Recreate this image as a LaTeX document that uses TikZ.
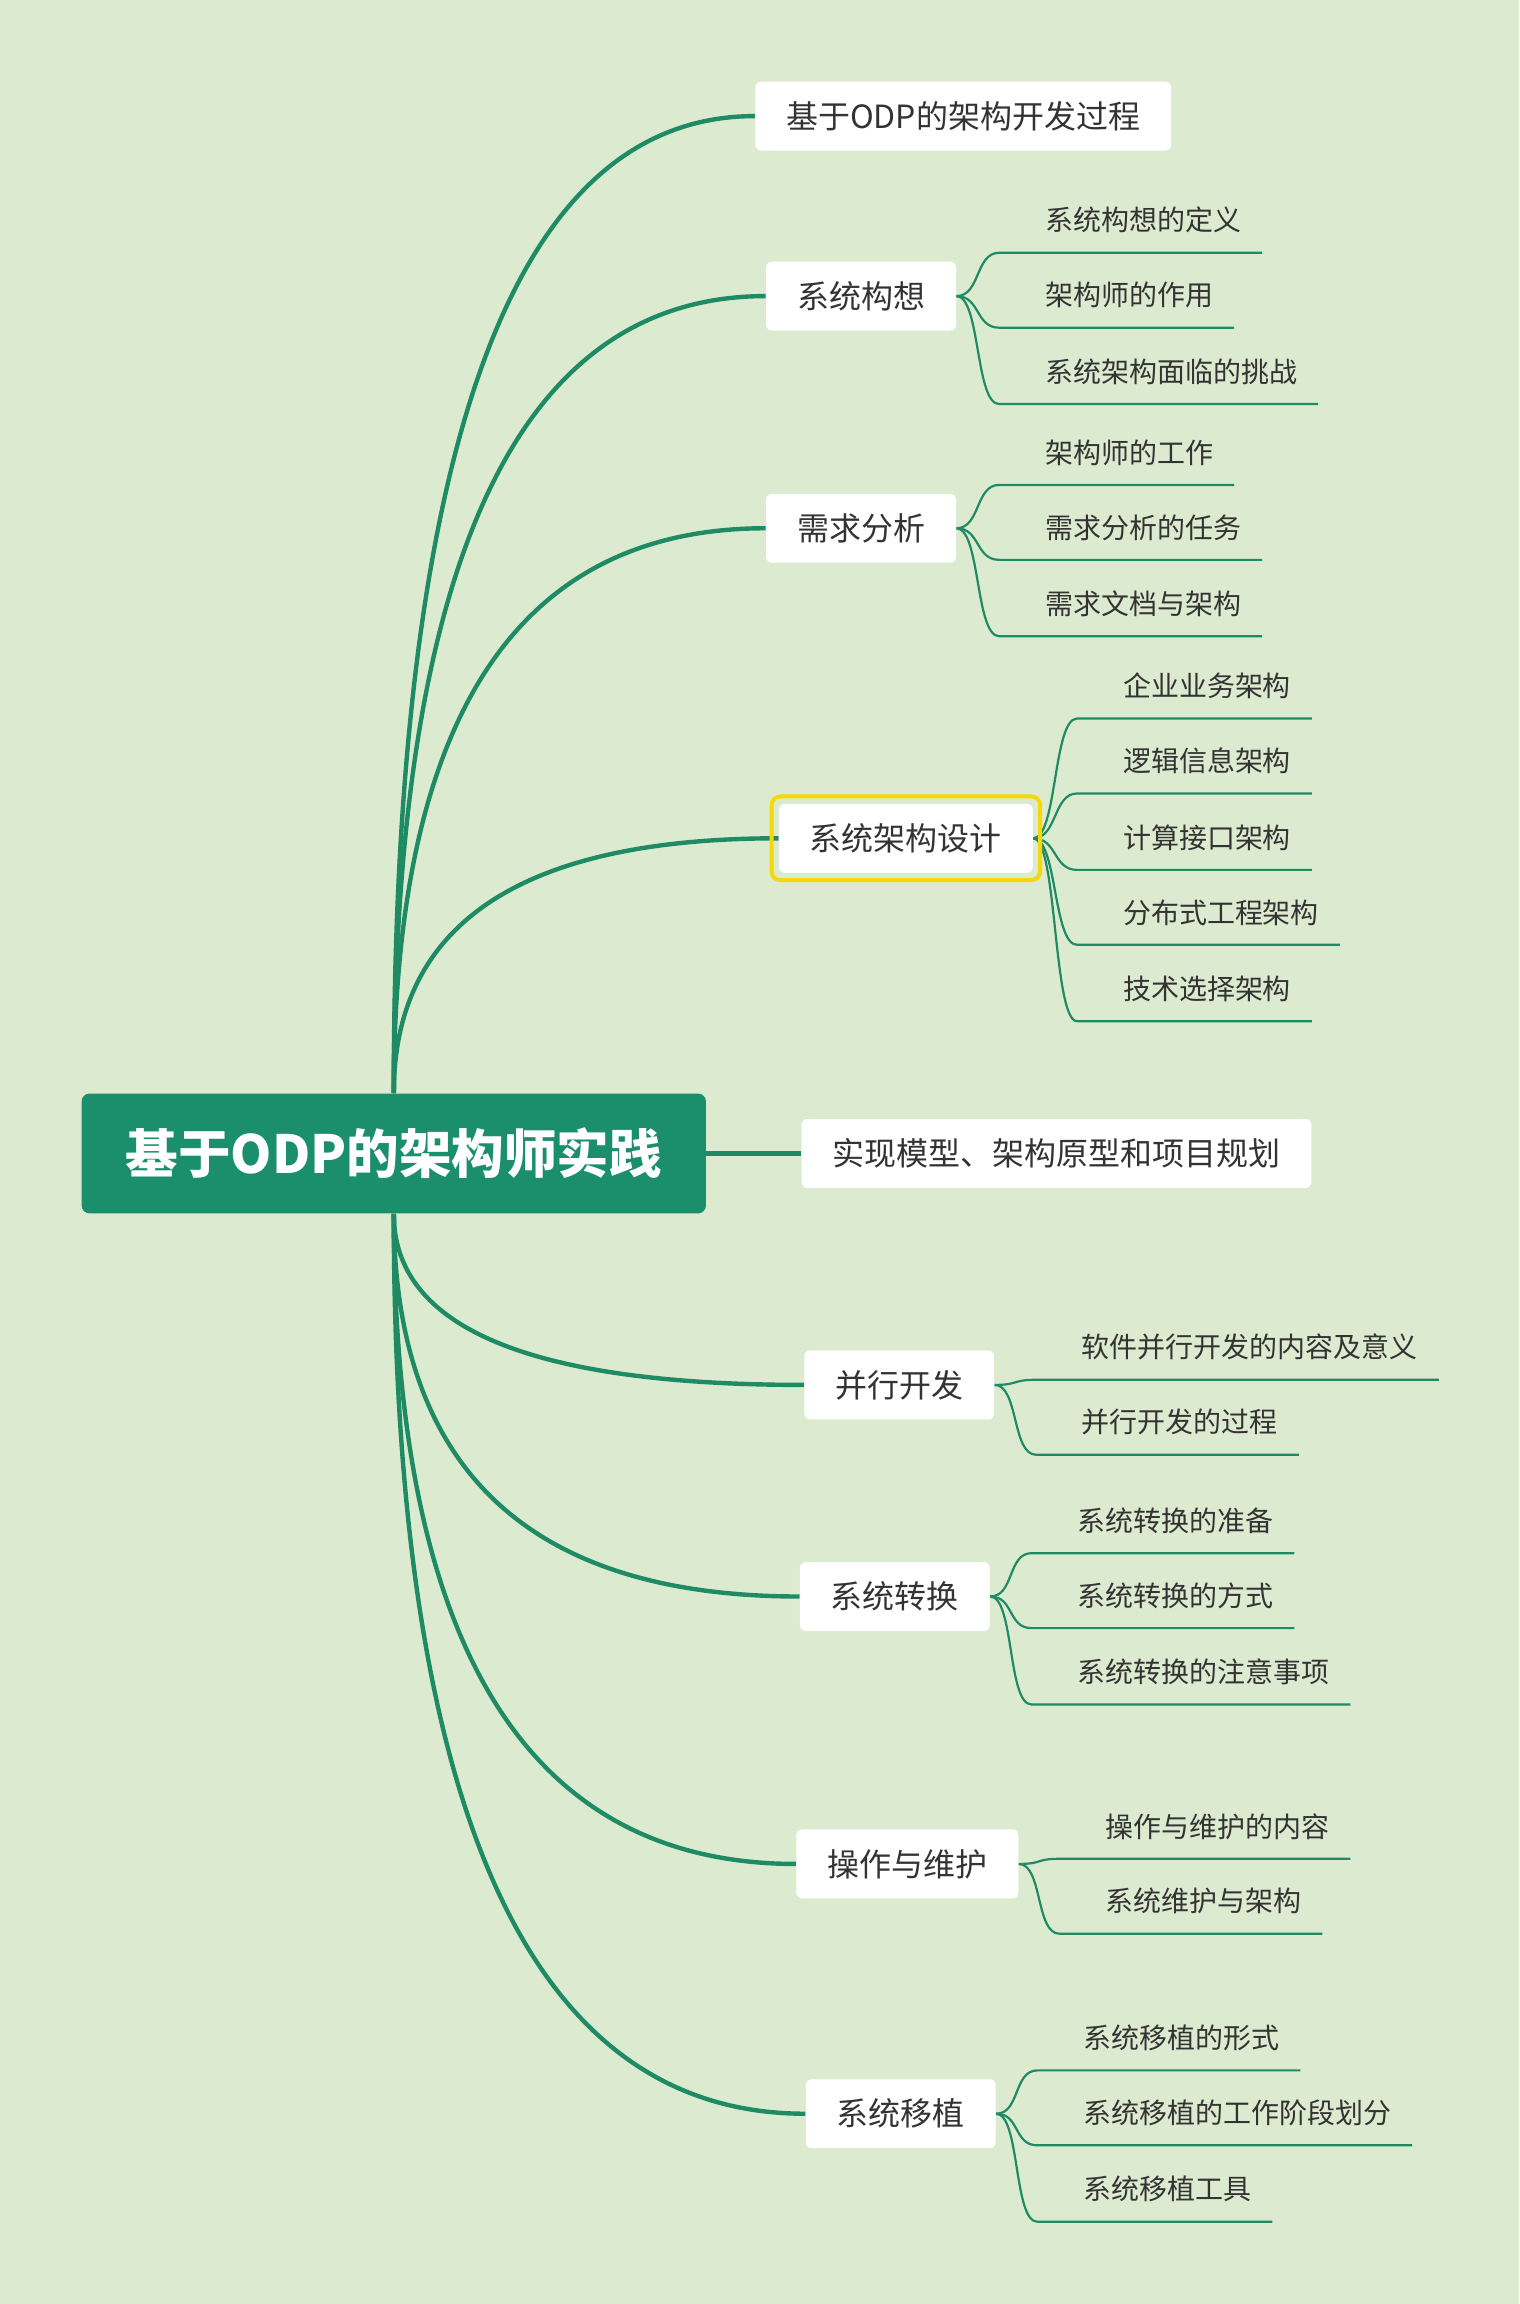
\documentclass[tikz,border=0pt]{standalone}
\usepackage{fontspec}
\newfontfamily\cjk{Noto Sans CJK SC}
\usetikzlibrary{calc,backgrounds}
\definecolor{bgc}{RGB}{220,235,208}
\definecolor{lineg}{RGB}{30,139,101}
\definecolor{rootg}{RGB}{27,143,107}
\definecolor{txt}{RGB}{51,51,51}
\definecolor{hl}{RGB}{246,215,10}
\begin{document}
\begin{tikzpicture}[x=0.735pt,y=-0.735pt,
 rootbox/.style={fill=rootg, rounded corners=4pt, text=white, font=\cjk\bfseries\fontsize{26.3}{30}\selectfont, minimum height=60pt, inner xsep=22pt, inner ysep=0pt},
 topic/.style={fill=white, rounded corners=3pt, text=txt, font=\cjk\fontsize{16}{18}\selectfont, minimum height=34.5pt, inner xsep=15.5pt, inner ysep=0pt},
 leaf/.style={anchor=south west, inner sep=0pt, text=txt, font=\cjk\fontsize{14}{16}\selectfont, text height=10pt, text depth=10.7pt, execute at begin node=\hspace*{22.8pt}, execute at end node=\hspace*{10.3pt}},
 mainline/.style={draw=lineg, line width=2.2pt},
 subline/.style={draw=lineg, line width=1.1pt},
]
\useasboundingbox (0,0) rectangle (1034,1568);
% root
\node[rootbox] (root) at (268,785) {基于ODP的架构师实践};
% topics
\node[topic] (t1) at (655.5,79) {基于ODP的架构开发过程};
\node[topic] (t2) at (586,201.5) {系统构想};
\node[topic] (t3) at (586,359.5) {需求分析};
\node[topic] (t4) at (616.5,570.5) {系统架构设计};
\node[topic] (t5) at (719,785) {实现模型、架构原型和项目规划};
\node[topic] (t6) at (612,942.5) {并行开发};
\node[topic] (t7) at (609,1086.5) {系统转换};
\node[topic] (t8) at (617.5,1268.5) {操作与维护};
\node[topic] (t9) at (613,1438.5) {系统移植};
\draw[hl, line width=2pt, rounded corners=4.5pt] ([xshift=-3.5pt,yshift=3.5pt]t4.north west) rectangle ([xshift=3.5pt,yshift=-3.5pt]t4.south east);
% leaves
\node[leaf] (a1) at (680,172) {系统构想的定义};
\node[leaf] (a2) at (680,223) {架构师的作用};
\node[leaf] (a3) at (680,275) {系统架构面临的挑战};
\node[leaf] (b1) at (680,330) {架构师的工作};
\node[leaf] (b2) at (680,381) {需求分析的任务};
\node[leaf] (b3) at (680,433) {需求文档与架构};
\node[leaf] (c1) at (733,489) {企业业务架构};
\node[leaf] (c2) at (733,540) {逻辑信息架构};
\node[leaf] (c3) at (733,592) {计算接口架构};
\node[leaf] (c4) at (733,643) {分布式工程架构};
\node[leaf] (c5) at (733,695) {技术选择架构};
\node[leaf] (d1) at (705,939) {软件并行开发的内容及意义};
\node[leaf] (d2) at (705,990) {并行开发的过程};
\node[leaf] (e1) at (702,1057) {系统转换的准备};
\node[leaf] (e2) at (702,1108) {系统转换的方式};
\node[leaf] (e3) at (702,1160) {系统转换的注意事项};
\node[leaf] (f1) at (721,1265) {操作与维护的内容};
\node[leaf] (f2) at (721,1316) {系统维护与架构};
\node[leaf] (g1) at (706,1409) {系统移植的形式};
\node[leaf] (g2) at (706,1460) {系统移植的工作阶段划分};
\node[leaf] (g3) at (706,1512) {系统移植工具};
\begin{pgfonlayer}{background}
\fill[bgc] (0,0) rectangle (1034,1568);
\foreach \t in {t1,t2,t3,t4} {
  \draw[mainline] (root.north) .. controls ($(root.north)!0.6667!(root.north |- \t.west)$) and ($(\t.west)!0.6667!(root.north |- \t.west)$) .. (\t.west);
}
\foreach \t in {t6,t7,t8,t9} {
  \draw[mainline] (root.south) .. controls ($(root.south)!0.6667!(root.south |- \t.west)$) and ($(\t.west)!0.6667!(root.south |- \t.west)$) .. (\t.west);
}
\draw[mainline] (root.east) -- (t5.west);
\foreach \p/\l in {t2/a1,t2/a2,t2/a3,t3/b1,t3/b2,t3/b3,t4/c1,t4/c2,t4/c3,t4/c4,t4/c5,t6/d1,t6/d2,t7/e1,t7/e2,t7/e3,t8/f1,t8/f2,t9/g1,t9/g2,t9/g3} {
  \draw[subline] (\p.east) .. controls ([xshift=12pt]\p.east) and ([xshift=-12pt]\l.south west) .. (\l.south west) -- (\l.south east);
}
\end{pgfonlayer}
\end{tikzpicture}
\end{document}
